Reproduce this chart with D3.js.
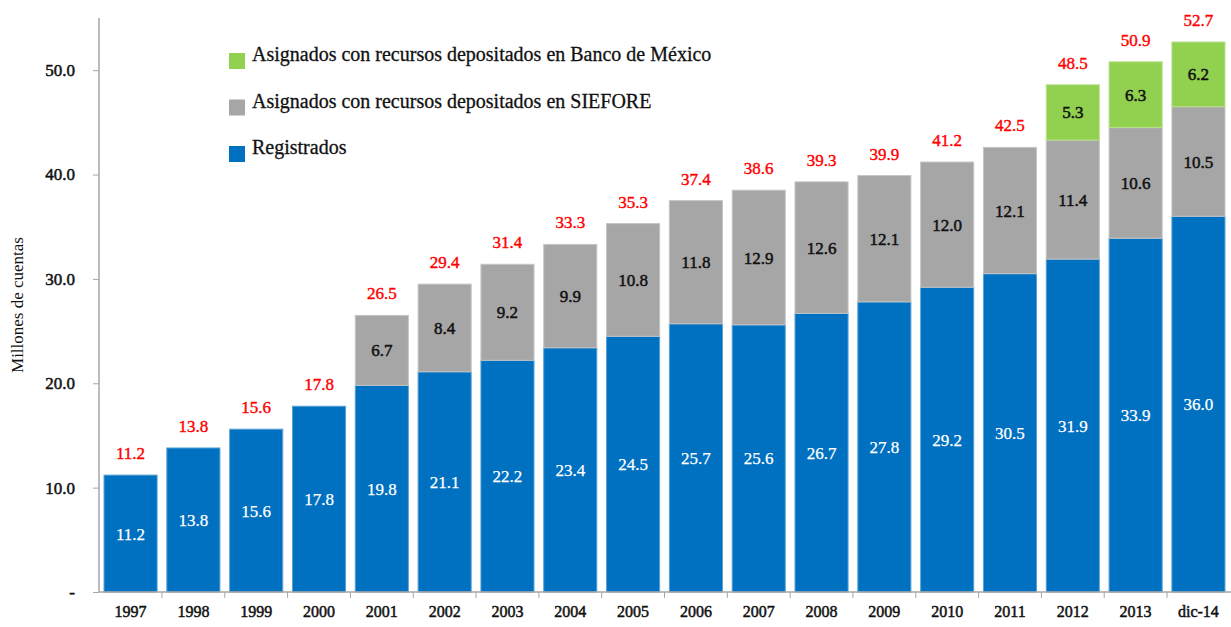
<!DOCTYPE html>
<html>
<head>
<meta charset="utf-8">
<script src="https://cdn.jsdelivr.net/npm/d3@7"></script>
<style>
  body { margin: 0; background: #fff; }
</style>
</head>
<body>
<div id="chart"></div>
<script>
// Data
const years = ["1997", "1998", "1999", "2000", "2001", "2002", "2003", "2004", "2005",
    "2006", "2007", "2008", "2009", "2010", "2011", "2012", "2013", "dic-14"];
const registrados = [11.2, 13.8, 15.6, 17.8, 19.8, 21.1, 22.2, 23.4, 24.5,
    25.7, 25.6, 26.7, 27.8, 29.2, 30.5, 31.9, 33.9, 36.0];
const siefore = [0, 0, 0, 0, 6.7, 8.4, 9.2, 9.9, 10.8,
    11.8, 12.9, 12.6, 12.1, 12.0, 12.1, 11.4, 10.6, 10.5];
const banxico = [0, 0, 0, 0, 0, 0, 0, 0, 0,
    0, 0, 0, 0, 0, 0, 5.3, 6.3, 6.2];
const totals = [11.2, 13.8, 15.6, 17.8, 26.5, 29.4, 31.4, 33.3, 35.3,
    37.4, 38.6, 39.3, 39.9, 41.2, 42.5, 48.5, 50.9, 52.7];
const yTicks = [0, 10, 20, 30, 40, 50];

const seriesKeys = ["registrados", "siefore", "banxico"];
const seriesNames = {
    banxico: "Asignados con recursos depositados en Banco de México",
    siefore: "Asignados con recursos depositados en SIEFORE",
    registrados: "Registrados"
};
const colors = { registrados: "#0070C0", siefore: "#A6A6A6", banxico: "#92D050" };
const labelColors = { registrados: "#fff", siefore: "#111", banxico: "#111" };
const FONT = "'Liberation Serif', 'Times New Roman', serif";

const width = 1231, height = 627;

// Semi-bold serif look: regular weight plus a thin outline of the same colour
function heavy(sel, color, w) {
    sel.style("font-family", FONT)
        .style("fill", color)
        .style("stroke", color)
        .style("stroke-width", w || 0.4)
        .style("paint-order", "stroke");
}

const svg = d3.select("#chart")
    .append("svg")
    .attr("width", width)
    .attr("height", height);

// Build table for stacking
const table = years.map((y, i) => ({
    year: y,
    registrados: registrados[i],
    siefore: siefore[i],
    banxico: banxico[i],
    total: totals[i]
}));

const stacked = d3.stack().keys(seriesKeys)(table);

// Scales
const xScale = d3.scaleBand()
    .domain(years)
    .range([99, 1230])
    .paddingInner(0.155)
    .paddingOuter(0.08);

const yScale = d3.scaleLinear()
    .domain([0, 55])
    .range([592, 18]);

// Bars
const layers = svg.selectAll(".layer")
    .data(stacked)
    .enter()
    .append("g")
    .attr("class", "layer");

layers.selectAll("rect")
    .data(d => d.map(p => ({ key: d.key, p: p })).filter(o => o.p[1] - o.p[0] > 0))
    .enter()
    .append("rect")
    .attr("x", d => xScale(d.p.data.year))
    .attr("width", xScale.bandwidth())
    .attr("y", d => yScale(d.p[1]))
    .attr("height", d => yScale(d.p[0]) - yScale(d.p[1]))
    .style("fill", d => colors[d.key])
    .style("stroke", d => d3.interpolateRgb(colors[d.key], "#fff")(0.35))
    .style("stroke-width", 1);

// Segment labels
layers.selectAll("text")
    .data(d => d.map(p => ({ key: d.key, p: p })).filter(o => o.p[1] - o.p[0] > 0))
    .enter()
    .append("text")
    .attr("x", d => xScale(d.p.data.year) + xScale.bandwidth() / 2)
    .attr("y", d => yScale((d.p[0] + d.p[1]) / 2) + 6)
    .attr("text-anchor", "middle")
    .style("font-size", "17px")
    .each(function(d) { heavy(d3.select(this), labelColors[d.key], d.key === "registrados" ? 0.25 : 0.5); })
    .text(d => (d.p[1] - d.p[0]).toFixed(1));

// Totals
svg.selectAll(".total")
    .data(table)
    .enter()
    .append("text")
    .attr("class", "total")
    .attr("x", d => xScale(d.year) + xScale.bandwidth() / 2)
    .attr("y", d => yScale(d.registrados + d.siefore + d.banxico) - 16)
    .attr("text-anchor", "middle")
    .style("font-size", "17px")
    .call(heavy, "#FF0000", 0.4)
    .text(d => d.total.toFixed(1));

// Y axis
const yAxis = d3.axisLeft(yScale)
    .tickValues(yTicks)
    .tickSize(6)
    .tickPadding(18)
    .tickFormat(d => d === 0 ? "-" : d3.format(".1f")(d));

svg.append("g")
    .attr("transform", "translate(99,0)")
    .call(yAxis)
    .call(g => g.select(".domain").attr("stroke", "#a6a6a6").attr("stroke-width", 1.5)
        .attr("d", "M0," + yScale(55) + "V" + yScale(0)))
    .call(g => g.selectAll(".tick line").attr("stroke", "#a6a6a6"))
    .call(g => g.selectAll(".tick text")
        .style("font-size", "17px")
        .call(heavy, "#111", 0.5));

// X axis
const xAxis = d3.axisBottom(xScale).tickSize(0).tickPadding(14);

const xg = svg.append("g")
    .attr("transform", "translate(0,592)")
    .call(xAxis)
    .call(g => g.select(".domain").attr("stroke", "#a6a6a6").attr("stroke-width", 1.5)
        .attr("d", "M99,0H1231"))
    .call(g => g.selectAll(".tick text")
        .style("font-size", "16px")
        .call(heavy, "#111", 0.5));

// Category boundary ticks
const step = xScale.step();
xg.selectAll(".sep")
    .data(years.slice(1))
    .enter()
    .append("line")
    .attr("class", "sep")
    .attr("x1", d => xScale(d) - (step - xScale.bandwidth()) / 2)
    .attr("x2", d => xScale(d) - (step - xScale.bandwidth()) / 2)
    .attr("y1", 0)
    .attr("y2", 6)
    .attr("stroke", "#a6a6a6");

// Y label
svg.append("text")
    .attr("transform", "translate(23,305) rotate(-90)")
    .attr("text-anchor", "middle")
    .style("font-family", FONT)
    .style("font-size", "17px")
    .style("fill", "#111")
    .text("Millones de cuentas");

// Legend
const legendKeys = ["banxico", "siefore", "registrados"];
const legend = svg.selectAll(".legend")
    .data(legendKeys)
    .enter()
    .append("g")
    .attr("class", "legend")
    .attr("transform", (d, i) => `translate(229, ${53 + i * 46.5})`);

legend.append("rect")
    .attr("width", 16)
    .attr("height", 16)
    .style("fill", d => colors[d]);

legend.append("text")
    .attr("x", 23)
    .attr("y", 8)
    .style("font-size", "20px")
    .call(heavy, "#111", 0.3)
    .text(d => seriesNames[d]);
</script>
</body>
</html>
